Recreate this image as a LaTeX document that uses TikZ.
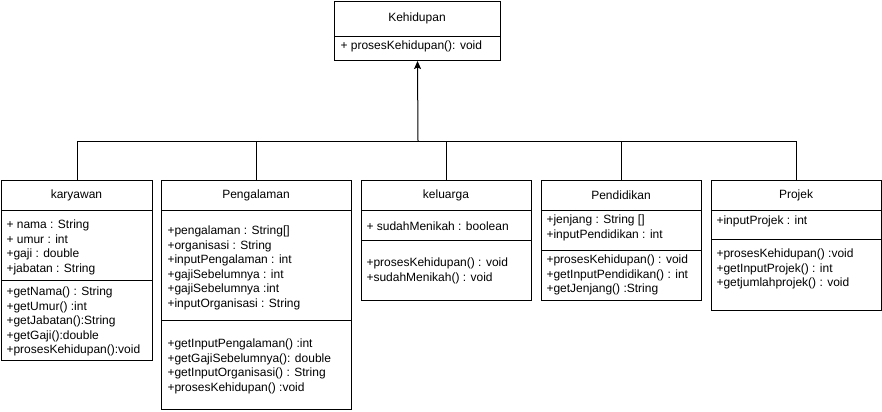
\documentclass[tikz,border=0pt]{standalone}
\usepackage{fontspec}
\setmainfont{Liberation Sans}
\usetikzlibrary{arrows.meta}
\begin{document}
\begin{tikzpicture}[x=1bp,y=-1bp,line width=1bp,
  box/.style={draw,rectangle,inner sep=0,anchor=north west},
  txt/.style={anchor=north west,inner sep=0,align=left,font=\fontsize{12bp}{14.5bp}\selectfont,execute at begin node={\rule{0pt}{9bp}}},
  ttl/.style={anchor=center,inner sep=0,font=\fontsize{12bp}{14.5bp}\selectfont},
  inh/.style={-{Stealth[length=8bp,width=7bp,inset=1.5bp]}}]
\useasboundingbox (0,0) rectangle (882,411);
% Kehidupan
\node[box,minimum width=166bp,minimum height=59bp] (keh) at (334,1) {};
\draw (keh.west |- 0,36) -- (keh.east |- 0,36);
\node[ttl] (kehT) at (417,18) {Kehidupan};
\node[txt] (kehM) at (340,40) {+ prosesKehidupan(): void};
% karyawan
\node[box,minimum width=151bp,minimum height=180bp] (kar) at (1,180) {};
\draw (kar.west |- 0,210) -- (kar.east |- 0,210);
\draw (kar.west |- 0,280) -- (kar.east |- 0,280);
\node[ttl] (karT) at (76.5,195) {karyawan};
\node[txt] (karA) at (6,219.5) {+ nama : String\\+ umur : int\\+gaji : double\\+jabatan : String};
\node[txt] (karM) at (6,286.5) {+getNama() : String\\+getUmur() :int\\+getJabatan():String\\+getGaji():double\\+prosesKehidupan():void};
% Pengalaman
\node[box,minimum width=190bp,minimum height=229bp] (peng) at (161,180) {};
\draw (peng.west |- 0,210) -- (peng.east |- 0,210);
\draw (peng.west |- 0,320) -- (peng.east |- 0,320);
\node[ttl] (pengT) at (256,195) {Pengalaman};
\node[txt] (pengA) at (167,225.5) {+pengalaman : String[]\\+organisasi : String\\+inputPengalaman : int\\+gajiSebelumnya : int\\+gajiSebelumnya :int\\+inputOrganisasi : String};
\node[txt] (pengM) at (167,338.5) {+getInputPengalaman() :int\\+getGajiSebelumnya(): double\\+getInputOrganisasi() : String\\+prosesKehidupan() :void};
% keluarga
\node[box,minimum width=170bp,minimum height=120bp] (kel) at (361,180) {};
\draw (kel.west |- 0,210) -- (kel.east |- 0,210);
\draw (kel.west |- 0,240) -- (kel.east |- 0,240);
\node[ttl] (kelT) at (446,195) {keluarga};
\node[txt] (kelA) at (366,220.5) {+ sudahMenikah : boolean};
\node[txt] (kelM) at (366,257.5) {+prosesKehidupan() : void\\+sudahMenikah() : void};
% Pendidikan
\node[box,minimum width=160bp,minimum height=120bp] (pend) at (541,180) {};
\draw (pend.west |- 0,210) -- (pend.east |- 0,210);
\draw (pend.west |- 0,250) -- (pend.east |- 0,250);
\node[ttl] (pendT) at (621,195) {Pendidikan};
\node[txt] (pendA) at (546,214.5) {+jenjang : String []\\+inputPendidikan : int};
\node[txt] (pendM) at (546,254.5) {+prosesKehidupan() : void\\+getInputPendidikan() : int\\+getJenjang() :String};
% Projek
\node[box,minimum width=170bp,minimum height=130bp] (proj) at (711,180) {};
\draw (proj.west |- 0,210) -- (proj.east |- 0,210);
\draw (proj.west |- 0,239) -- (proj.east |- 0,239);
\node[ttl] (projT) at (796,195) {Projek};
\node[txt] (projA) at (716,214.5) {+inputProjek : int};
\node[txt] (projM) at (716,248.5) {+prosesKehidupan() :void\\+getInputProjek() : int\\+getjumlahprojek() : void};
% connectors
\coordinate (bus) at (418,141);
\draw (kar.north) -- (kar.north |- bus) -- (proj.north |- bus) -- (proj.north);
\draw (peng.north) -- (peng.north |- bus);
\draw (kel.north) -- (kel.north |- bus);
\draw (pend.north) -- (pend.north |- bus);
\draw[inh] (bus) -- (keh.south);
\end{tikzpicture}
\end{document}
